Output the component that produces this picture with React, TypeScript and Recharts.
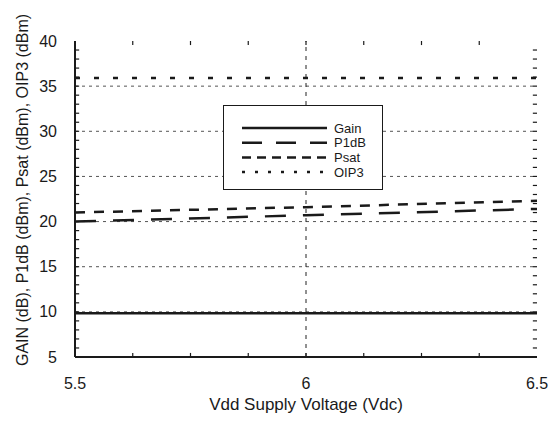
import { LineChart, Line, XAxis, YAxis, ReferenceLine, Legend } from "recharts";

const voltage = [5.5, 6, 6.5];
const gain = [9.85, 9.85, 9.85];
const p1db = [20.0, 20.7, 21.4];
const psat = [21.0, 21.6, 22.3];
const oip3 = [35.9, 35.9, 35.9];

const xLabels = [5.5, 6, 6.5];
const xMinor = [5.625, 5.75, 5.875, 6, 6.125, 6.25, 6.375];
const yLabels = [5, 10, 15, 20, 25, 30, 35, 40];
const yMinor = Array.from({ length: 34 }, (_, i) => 6 + i);
const hGrid = [10, 15, 20, 25, 30, 35];
const vGrid = [6];

const data = voltage.map((v, i) => ({ v, gain: gain[i], p1db: p1db[i], psat: psat[i], oip3: oip3[i] }));

const FONT = "'Liberation Sans', Arial, Helvetica, sans-serif";
const INK = "#1a1a1a";
const X0 = 5.5, X1 = 6.5, Y0 = 5, Y1 = 40;
// inner tick length, in axis units (about 4px)
const TX = 0.009, TY = 0.45;

const series = [
  { key: "gain", name: "Gain", dash: undefined, legendDash: undefined },
  { key: "p1db", name: "P1dB", dash: "21 17", legendDash: "20 14" },
  { key: "psat", name: "Psat", dash: "10 9", legendDash: "9 6" },
  { key: "oip3", name: "OIP3", dash: "5 14", legendDash: "3 10" },
];

function XTick(props: any) {
  const { x, y, payload } = props;
  return (
    <text x={x} y={y} dy="0.35em" textAnchor="middle" fontSize={16} fontFamily={FONT} fill={INK}>
      {payload.value}
    </text>
  );
}

function YTick(props: any) {
  const { x, y, payload } = props;
  return (
    <text x={x} y={y} dy="0.35em" textAnchor="end" fontSize={16} fontFamily={FONT} fill={INK}>
      {payload.value}
    </text>
  );
}

function LegendBox() {
  return (
    <div style={{ width: 160, height: 85, border: `1px solid ${INK}`, background: "#fff", boxSizing: "border-box" }}>
      <svg width={158} height={83} style={{ display: "block" }}>
        {series.map((s, i) => (
          <g key={s.key}>
            <line x1={18} x2={103} y1={22 + i * 14.7} y2={22 + i * 14.7} stroke={INK} strokeWidth={2.5} strokeDasharray={s.legendDash} />
            <text x={110} y={22 + i * 14.7} dy="0.35em" fontSize={13} fontFamily={FONT} fill={INK}>{s.name}</text>
          </g>
        ))}
      </svg>
    </div>
  );
}

export default function App() {
  return (
    <div style={{ position: "absolute", left: 0, top: 0, background: "#fff" }}>
      <LineChart width={550} height={421} data={data} margin={{ top: 41, right: 13, bottom: 0, left: 0 }}>
        {hGrid.map((g) => (
          <ReferenceLine key={g} y={g} stroke="#555" strokeWidth={1} strokeDasharray="3 4" />
        ))}
        {vGrid.map((g) => (
          <ReferenceLine key={g} x={g} stroke="#222" strokeWidth={1} strokeDasharray="4 5" />
        ))}
        {yMinor.map((t) => (
          <ReferenceLine key={"yl" + t} segment={[{ x: X0, y: t }, { x: X0 + TX, y: t }]} stroke={INK} strokeWidth={1.2} />
        ))}
        {yMinor.map((t) => (
          <ReferenceLine key={"yr" + t} segment={[{ x: X1 - TX, y: t }, { x: X1, y: t }]} stroke={INK} strokeWidth={1.2} />
        ))}
        {xMinor.map((t) => (
          <ReferenceLine key={"xb" + t} segment={[{ x: t, y: Y0 }, { x: t, y: Y0 + TY }]} stroke={INK} strokeWidth={1.2} />
        ))}
        {xMinor.map((t) => (
          <ReferenceLine key={"xt" + t} segment={[{ x: t, y: Y1 - TY }, { x: t, y: Y1 }]} stroke={INK} strokeWidth={1.2} />
        ))}
        <XAxis
          dataKey="v" type="number" domain={[X0, X1]} ticks={xLabels} interval={0}
          height={64} tickLine={false} tickMargin={20} axisLine={{ stroke: INK, strokeWidth: 2 }} tick={<XTick />}
          label={() => (
            <text x={306} y={410} textAnchor="middle" fontSize={17} fontFamily={FONT} fill={INK}>Vdd Supply Voltage (Vdc)</text>
          )}
        />
        <XAxis xAxisId="top" orientation="top" dataKey="v" type="number" domain={[X0, X1]} height={0} tick={false} tickLine={false} axisLine={{ stroke: INK, strokeWidth: 2 }} />
        <YAxis
          type="number" domain={[Y0, Y1]} ticks={yLabels} interval={0} width={75}
          tickLine={false} tickMargin={12} axisLine={{ stroke: INK, strokeWidth: 2 }} tick={<YTick />}
          label={() => (
            <text x={22} y={190} transform="rotate(-90 22 190)" textAnchor="middle" dy="0.35em" fontSize={16} fontFamily={FONT} fill={INK}>
              GAIN (dB), P1dB (dBm), Psat (dBm), OIP3 (dBm)
            </text>
          )}
        />
        <YAxis yAxisId="right" orientation="right" type="number" domain={[Y0, Y1]} width={0} tick={false} tickLine={false} axisLine={{ stroke: INK, strokeWidth: 2 }} />
        {series.map((s) => (
          <Line
            key={s.key} dataKey={s.key} name={s.name} type="linear" stroke={INK} strokeWidth={2.5}
            strokeDasharray={s.dash} dot={false} activeDot={false} isAnimationActive={false}
          />
        ))}
        <Legend
          layout="horizontal" verticalAlign="middle" align="center"
          content={() => <LegendBox />}
          wrapperStyle={{ position: "absolute", left: 223, top: 105, width: 160, height: 85, bottom: "auto", right: "auto" }}
        />
      </LineChart>
    </div>
  );
}
